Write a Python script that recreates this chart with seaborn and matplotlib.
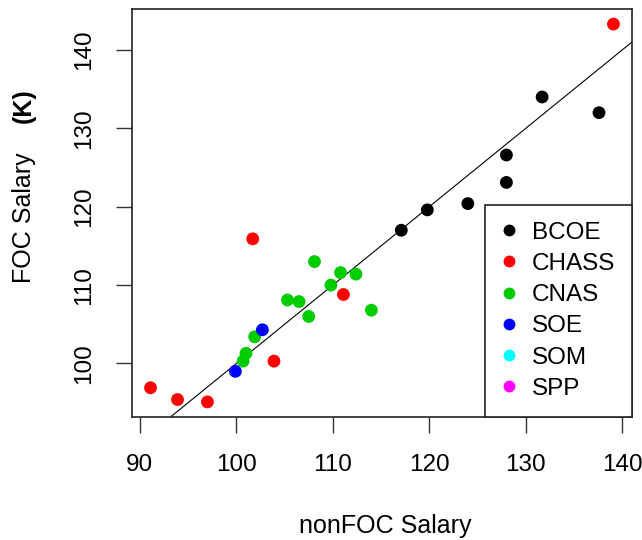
import numpy as np
import pandas as pd
import matplotlib
matplotlib.use("Agg")
import matplotlib.pyplot as plt
from matplotlib.lines import Line2D
import seaborn as sns

# values (salaries in K)
nonfoc_bcoe = [117.1, 119.8, 124.0, 128.0, 128.0, 131.7, 137.6]
foc_bcoe = [117.0, 119.6, 120.4, 123.1, 126.6, 134.0, 132.0]
nonfoc_chass = [139.1, 101.7, 111.1, 103.9, 91.1, 93.9, 97.0]
foc_chass = [143.3, 115.9, 108.8, 100.3, 96.9, 95.4, 95.1]
nonfoc_cnas = [108.1, 110.8, 112.4, 109.8, 105.3, 106.5, 107.5, 114.0, 101.9, 101.0, 100.7]
foc_cnas = [113.0, 111.6, 111.4, 110.0, 108.1, 107.9, 106.0, 106.8, 103.4, 101.3, 100.3]
nonfoc_soe = [102.7, 99.9]
foc_soe = [104.3, 99.0]

colleges = ['BCOE', 'CHASS', 'CNAS', 'SOE', 'SOM', 'SPP']
colors = ['black', '#FF0000', '#00CD00', '#0000FF', '#00FFFF', '#FF00FF']

# reference line y = x
line_intercept = 0
line_slope = 1

df = pd.DataFrame({
    'nonFOC': nonfoc_bcoe + nonfoc_chass + nonfoc_cnas + nonfoc_soe,
    'FOC': foc_bcoe + foc_chass + foc_cnas + foc_soe,
    'college': ['BCOE'] * len(nonfoc_bcoe) + ['CHASS'] * len(nonfoc_chass)
               + ['CNAS'] * len(nonfoc_cnas) + ['SOE'] * len(nonfoc_soe),
})

sns.set_style('white')
plt.rcParams['font.family'] = ['Liberation Sans', 'DejaVu Sans']
plt.rcParams['text.color'] = 'black'
plt.rcParams['xtick.color'] = 'black'
plt.rcParams['ytick.color'] = 'black'

fig = plt.figure(figsize=(6.42, 5.4), dpi=100)
ax = fig.add_axes([132 / 642, 123 / 540, 500 / 642, 408 / 540])

palette = dict(zip(colleges, colors))
sns.scatterplot(data=df, x='nonFOC', y='FOC', hue='college', hue_order=colleges,
                palette=palette, s=85, linewidth=0, ax=ax, legend=False, zorder=3)

ax.axline((0, line_intercept), slope=line_slope, color='black', lw=0.8, zorder=2)

# R style axis ranges (4% padding)
def r_range(v):
    lo, hi = min(v), max(v)
    pad = (hi - lo) * 0.04
    return lo - pad, hi + pad

ax.set_xlim(r_range(df['nonFOC']))
ax.set_ylim(r_range(df['FOC']))
ax.set_xticks(range(90, 141, 10))
ax.set_yticks(range(100, 141, 10))
ax.set_xlabel('')
ax.set_ylabel('')

for sp in ax.spines.values():
    sp.set_visible(True)
    sp.set_color('#222222')
    sp.set_linewidth(1.2)

ax.tick_params(axis='both', direction='out', length=11.5, width=1, color='#333333',
               labelcolor='black', pad=15, labelsize=17.5, bottom=True, left=True)
ax.tick_params(axis='y', labelrotation=90)
for lab in ax.get_yticklabels():
    lab.set_va('center')

fig.text(385 / 642, 7 / 540, 'nonFOC Salary', ha='center', va='baseline', fontsize=18)
fig.text(24 / 642, (540 - 283) / 540, 'FOC Salary', rotation=90, ha='center',
         va='bottom', fontsize=18)
fig.text(24 / 642, (540 - 88) / 540, '(K)', rotation=90, ha='center',
         va='top', fontsize=18, fontweight='bold')

handles = [Line2D([], [], marker='o', ls='', color=c, markersize=7.5) for c in colors]
leg = ax.legend(handles, colleges, loc='lower right', borderaxespad=0, fontsize=17.5,
                frameon=True, fancybox=False, borderpad=0.7, labelspacing=0.38,
                handlelength=0.5, handletextpad=0.7)
leg.get_frame().set_edgecolor('#222222')
leg.get_frame().set_linewidth(1.2)
leg.get_frame().set_alpha(1)
for t in leg.get_texts():
    t.set_color('black')

fig.savefig('out.png', dpi=100)
